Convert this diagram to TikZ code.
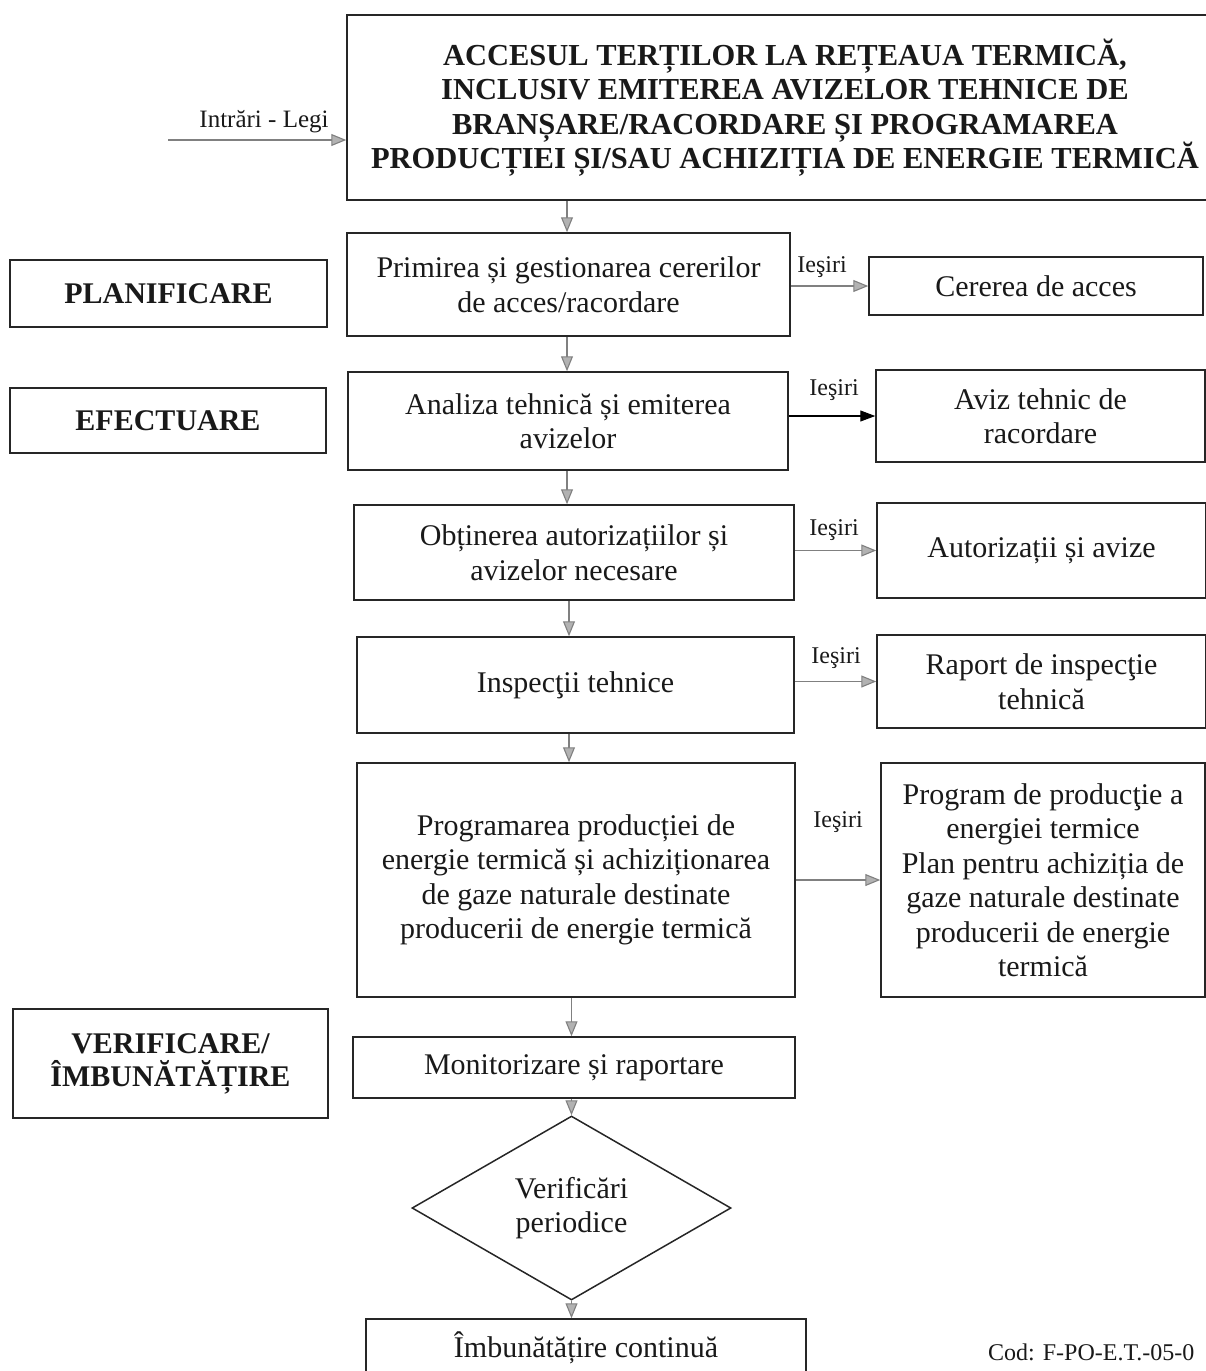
\documentclass[tikz,border=0pt]{standalone}
\usepackage{fontspec}
\setmainfont{Liberation Serif}
\usetikzlibrary{arrows.meta,shapes.geometric,positioning}

\tikzset{
	box/.style={draw=black!85, line width=1.5pt, align=center, inner sep=2pt, text=black!90,
		font=\fontsize{30}{34.5}\selectfont},
	titlebox/.style={box, font=\bfseries\fontsize{30.5}{34.5}\selectfont,
		minimum width=876, minimum height=185},
	phasebox/.style={box, font=\bfseries\fontsize{30}{33}\selectfont},
	lbl/.style={font=\fontsize{24}{28}\selectfont, inner sep=0pt, anchor=base, text=black!90},
	flow/.style={draw=black!50, line width=1.1pt, -{Triangle[length=15pt,width=12pt,fill=black!30]}},
	flowk/.style={draw=black, line width=1.1pt, -{Triangle[length=15pt,width=11pt]}}
}

\begin{document}
\begin{tikzpicture}[x=1pt,y=-1pt]
					
					\useasboundingbox (0,0) rectangle (1206,1371);
					
					\node (title) at (785,107.5)[titlebox] {ACCESUL TERȚILOR LA REȚEAUA TERMICĂ,\\INCLUSIV EMITEREA AVIZELOR TEHNICE DE\\BRANȘARE/RACORDARE ȘI PROGRAMAREA\\PRODUCȚIEI ȘI/SAU ACHIZIȚIA DE ENERGIE TERMICĂ};
					\node (inlbl) at (264,127)[lbl,font=\fontsize{25}{28}\selectfont] {Intrări - Legi};
					\coordinate (in) at (168,140);
					
					\node (prim) at (568.5,284.5)[box, minimum width=443, minimum height=103] {Primirea și gestionarea cererilor\\de acces/racordare};
					\node (anal) at (568,421)[box, minimum width=440, minimum height=98] {Analiza tehnică și emiterea\\avizelor};
					\node (obt) at (574,552.5)[box, minimum width=440, minimum height=95] {Obținerea autorizațiilor și\\avizelor necesare};
					\node (insp) at (575.5,685)[box, minimum width=437, minimum height=96] {Inspecţii tehnice};
					\node (prog) at (576,880)[box, minimum width=438, minimum height=234] {Programarea producției de\\energie termică și achiziționarea\\de gaze naturale destinate\\producerii de energie termică};
					\node (monit) at (574,1067.5)[box, minimum width=442, minimum height=61] {Monitorizare și raportare};
					\node (chk) at (571.5,1208)[box, shape=diamond, inner sep=0pt, minimum width=319, minimum height=184] {Verificări\\periodice};
					\node (imp) at (586,1348)[box, minimum width=440, minimum height=58] {Îmbunătățire continuă};
					
					\node (plan) at (168.5,293.5)[phasebox, minimum width=317, minimum height=67] {PLANIFICARE};
					\node (efect) at (168,420.5)[phasebox, minimum width=316, minimum height=65] {EFECTUARE};
					\node (verif) at (170.5,1063.5)[phasebox, minimum width=315, minimum height=109] {VERIFICARE/\\ÎMBUNĂTĂȚIRE};
					
					\node (cerere) at (1036,286)[box, minimum width=334, minimum height=58] {Cererea de acces};
					\node (aviz) at (1040.5,416)[box, minimum width=329, minimum height=92] {Aviz tehnic de\\racordare};
					\node (autor) at (1041.5,550.5)[box, minimum width=329, minimum height=95] {Autorizații și avize};
					\node (raport) at (1041.5,681.5)[box, minimum width=329, minimum height=93] {Raport de inspecţie\\tehnică};
					\node (plprod) at (1043,880)[box, minimum width=324, minimum height=234] {Program de producţie a\\energiei termice\\Plan pentru achiziția de\\gaze naturale destinate\\producerii de energie\\termică};
					
					\node (ies1) at (822,272)[lbl] {Ieşiri};
					\node (ies2) at (834,395)[lbl] {Ieşiri};
					\node (ies3) at (834,535)[lbl] {Ieşiri};
					\node (ies4) at (836,663)[lbl] {Ieşiri};
					\node (ies5) at (838,827)[lbl] {Ieşiri};
					
					\node (cod) at (988,1360)[lbl, anchor=base west] {Cod: F-PO-E.T.-05-0};
					
					\coordinate (spine) at (567,0);
					\draw[flow] (in) -- (in -| title.west);
					\draw[flow] (title.south -| spine) -- (prim.north -| spine);
					\draw[flow] (prim.south -| spine) -- (anal.north -| spine);
					\draw[flow] (anal.south -| spine) -- (obt.north -| spine);
					\draw[flow] ([xshift=2pt]obt.south -| spine) -- ([xshift=2pt]insp.north -| spine);
					\draw[flow] ([xshift=2pt]insp.south -| spine) -- ([xshift=2pt]prog.north -| spine);
					\draw[flow] (prog.south -| chk.north) -- (monit.north -| chk.north);
					\draw[flow] (monit.south -| chk.north) -- (chk.north);
					\draw[flow] (chk.south) -- (chk.south |- imp.north);
					
					\draw[flow] (prim.east |- cerere.west) -- (cerere.west);
					\draw[flowk] (anal.east |- aviz.west) -- (aviz.west);
					\draw[flow] (obt.east |- autor.west) -- (autor.west);
					\draw[flow] (insp.east |- raport.west) -- (raport.west);
					\draw[flow] (prog.east |- plprod.west) -- (plprod.west);
					
			\end{tikzpicture}
\end{document}
